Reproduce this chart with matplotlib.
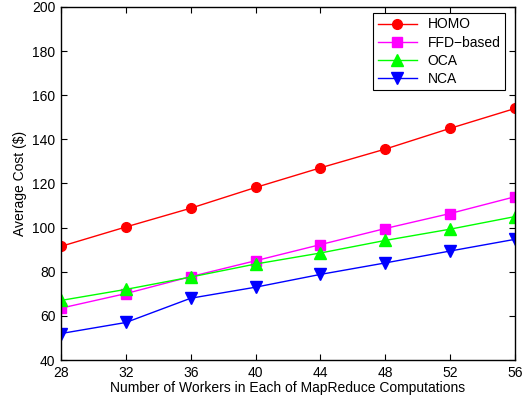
import numpy as np
import matplotlib
matplotlib.use("Agg")
import matplotlib.pyplot as plt

plt.rcParams['font.family'] = ['Liberation Sans', 'DejaVu Sans']

workers = [28, 32, 36, 40, 44, 48, 52, 56]
homo = [91.5, 100.3, 108.8, 118.2, 127.1, 135.6, 145.0, 154.0]
ffd = [63.5, 70.1, 77.8, 85.0, 92.3, 99.6, 106.4, 114.0]
oca = [67.0, 72.0, 77.6, 83.5, 88.5, 94.2, 99.3, 105.0]
nca = [52.0, 57.0, 68.0, 73.0, 78.8, 84.0, 89.4, 94.7]

fig = plt.figure(figsize=(5.29, 4.01), dpi=100)
ax = fig.add_axes([61 / 529, 1 - 360 / 401, 454 / 529, 353 / 401])

ax.plot(workers, homo, color='red', marker='o', ms=7, lw=1, label='HOMO')
ax.plot(workers, ffd, color='magenta', marker='s', ms=7, lw=1, label='FFD\u2212based')
ax.plot(workers, oca, color='#00ff00', marker='^', ms=8, lw=1, label='OCA')
ax.plot(workers, nca, color='blue', marker='v', ms=8, lw=1, label='NCA')

ax.set_xlim(28, 56)
ax.set_ylim(40, 200)
ax.set_xticks(workers)
ax.set_yticks(np.arange(40, 201, 20))
ax.tick_params(direction='in', top=True, right=True, labelsize=10, length=4, pad=4)
for s in ax.spines.values():
    s.set_linewidth(1)
ax.set_xlabel('Number of Workers in Each of MapReduce Computations', fontsize=10, labelpad=1)
ax.set_ylabel('Average Cost (\\$)', fontsize=10)

leg = ax.legend(loc='upper right', bbox_to_anchor=(0.978, 0.983), borderaxespad=0,
                fontsize=10, fancybox=False, framealpha=1, edgecolor='black',
                handlelength=2.8, labelspacing=0.3, borderpad=0.32)
leg.get_frame().set_linewidth(0.8)

fig.savefig('out.png', dpi=100)
